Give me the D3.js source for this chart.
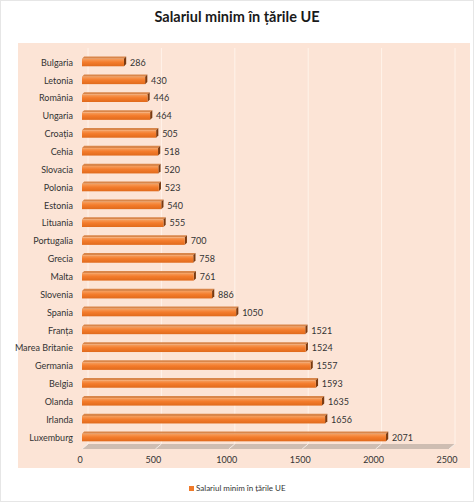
<!DOCTYPE html>
<html><head><meta charset="utf-8">
<script src="https://cdn.jsdelivr.net/npm/d3@7"></script>
<style>body{margin:0;background:#fff}svg{display:block}</style>
</head><body>
<svg id="c" width="474" height="502"></svg>
<script>
const categories = ["Bulgaria","Letonia","România","Ungaria","Croația","Cehia","Slovacia","Polonia","Estonia","Lituania","Portugalia","Grecia","Malta","Slovenia","Spania","Franța","Marea Britanie","Germania","Belgia","Olanda","Irlanda","Luxemburg"];
const values = [286,430,446,464,505,518,520,523,540,555,700,758,761,886,1050,1521,1524,1557,1593,1635,1656,2071];
const xTicks = [0,500,1000,1500,2000,2500];
const title = "Salariul  minim în țările UE";
const seriesName = "Salariul minim în țările UE";

const svg = d3.select("#c");
const font = "Lato, 'Open Sans', sans-serif";
const defs = svg.append("defs");
const g1 = defs.append("linearGradient").attr("id","bar").attr("x1",0).attr("x2",0).attr("y1",0).attr("y2",1);
g1.append("stop").attr("offset","0%").attr("stop-color","#f6a060");
g1.append("stop").attr("offset","45%").attr("stop-color","#f47c2c");
g1.append("stop").attr("offset","100%").attr("stop-color","#e06a1c");

// outer border
svg.append("rect").attr("x",0.5).attr("y",0.5).attr("width",473).attr("height",501).attr("fill","#fff").attr("stroke","#e6e6e6");

// plot area
svg.append("rect").attr("x",18).attr("y",43).attr("width",452).attr("height",425).attr("fill","#fce4d6");

svg.append("text").attr("x",237).attr("y",22).attr("text-anchor","middle")
  .attr("font-family",font).attr("font-weight","bold").attr("font-size",14.5).attr("fill","#1a1a1a").text(title);

const x = d3.scaleLinear().domain([0,2500]).range([82,449]);
const y = d3.scaleBand().domain(categories).range([53.6,446.5]).paddingInner(0.58).paddingOuter(0.29);
const dx = 6, dy = -5; // depth
const floorY = 449;

// gridlines on back wall + floor
const grid = svg.append("g");
xTicks.forEach(t=>{
  grid.append("line").attr("x1",x(t)+dx).attr("x2",x(t)+dx).attr("y1",48).attr("y2",floorY+dy)
    .attr("stroke","#fff3ea").attr("stroke-width",1);
  grid.append("line").attr("x1",x(t)).attr("x2",x(t)+dx).attr("y1",floorY).attr("y2",floorY+dy)
    .attr("stroke","#fff3ea").attr("stroke-width",1);
});
// floor slab
svg.append("path").attr("d",`M${x(0)},${floorY} L${x(2500)},${floorY} L${x(2500)+dx},${floorY+dy} L${x(0)+dx},${floorY+dy}Z`)
  .attr("fill","#c9b8ae").attr("opacity",0.9);
xTicks.forEach(t=>{
  svg.append("line").attr("x1",x(t)).attr("x2",x(t)+dx).attr("y1",floorY).attr("y2",floorY+dy)
    .attr("stroke","#f4ece6").attr("stroke-width",1);
});

// bars
const bars = svg.append("g");
categories.forEach((c,i)=>{
  const v = values[i];
  const y0 = y(c), h = y.bandwidth();
  const d = 2.2;
  // top face
  bars.append("path").attr("d",`M${x(0)},${y0} L${x(v)},${y0} L${x(v)+d},${y0-d} L${x(0)+d},${y0-d}Z`).attr("fill","#d9864a");
  // right face
  bars.append("path").attr("d",`M${x(v)},${y0} L${x(v)+d},${y0-d} L${x(v)+d},${y0+h-d} L${x(v)},${y0+h}Z`).attr("fill","#7a3a10");
  bars.append("rect").attr("x",x(0)).attr("y",y0).attr("width",x(v)-x(0)).attr("height",h).attr("fill","url(#bar)");
  bars.append("text").attr("x",x(v)+6).attr("y",y0+h/2).attr("dy","0.35em")
    .attr("font-family",font).attr("font-size",9).attr("fill","#333").text(v);
  bars.append("text").attr("x",73).attr("y",y0+h/2).attr("dy","0.35em").attr("text-anchor","end")
    .attr("font-family",font).attr("font-size",9).attr("fill","#333").text(c);
});

// x tick labels
svg.append("g").selectAll("text").data(xTicks).join("text")
  .attr("x",d=>x(d)-2).attr("y",463).attr("text-anchor","middle")
  .attr("font-family",font).attr("font-size",9).attr("fill","#333").text(d=>d);

// legend
const lg = svg.append("g");
lg.append("rect").attr("x",189).attr("y",486).attr("width",5).attr("height",5).attr("fill","#f07a2a");
lg.append("text").attr("x",196).attr("y",491).attr("font-family",font).attr("font-size",8).attr("fill","#333").text(seriesName);
</script>
</body></html>
